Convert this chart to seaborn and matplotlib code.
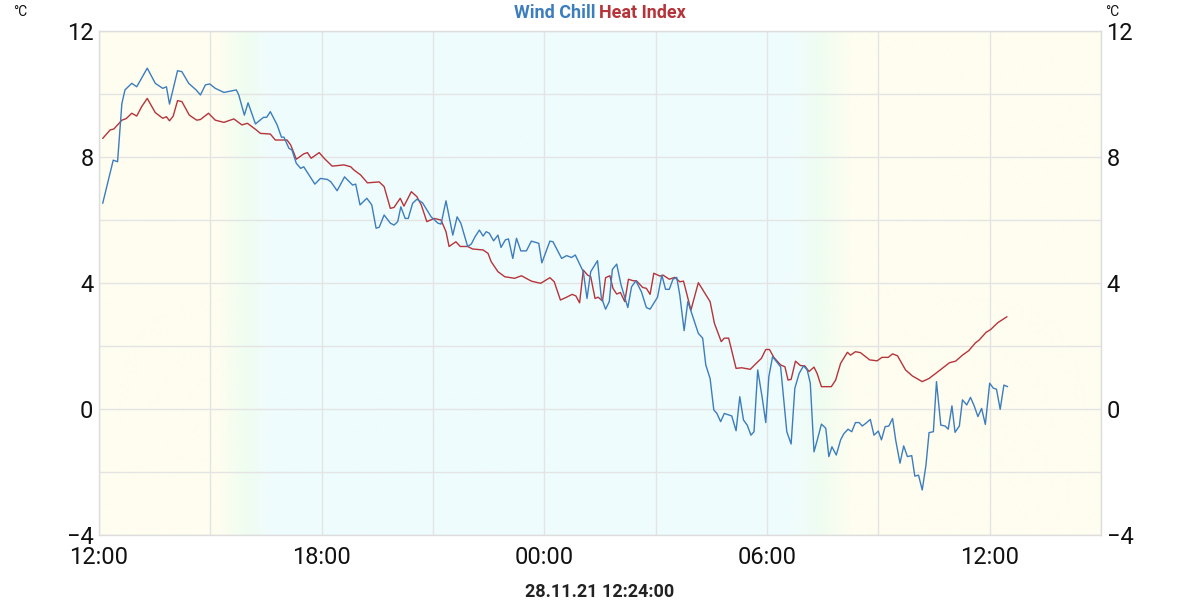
import numpy as np
import pandas as pd
import matplotlib
matplotlib.use("Agg")
import matplotlib.pyplot as plt
import matplotlib.dates as mdates
from matplotlib.colors import LinearSegmentedColormap
import seaborn as sns

# minutes after 27.11.21 12:00
wc_min = [6, 23, 30, 37, 42, 53, 61, 78, 91, 103, 109, 114, 127, 134, 145, 157, 164, 172, 179, 188,
          202, 215, 222, 226, 235, 241, 253, 266, 271, 277, 288, 295, 299, 307, 312, 319, 326, 331, 349, 358,
          369, 375, 385, 397, 410, 415, 422, 433, 441, 448, 453, 461, 471, 477, 483, 488, 495, 500, 507, 514,
          523, 537, 548, 553, 561, 572, 579, 585, 596, 602, 608, 615, 621, 626, 631, 638, 645, 650, 657, 662,
          669, 675, 682, 691, 699, 711, 716, 729, 734, 748, 756, 764, 770, 783, 789, 795, 806, 812, 819, 825,
          830, 837, 844, 855, 861, 868, 877, 885, 891, 903, 910, 916, 922, 928, 934, 939, 946, 952, 961, 969,
          976, 981, 988, 994, 999, 1005, 1011, 1023, 1030, 1036, 1042, 1048, 1054, 1059, 1065, 1072, 1078, 1083, 1089, 1102,
          1112, 1119, 1125, 1132, 1139, 1145, 1150, 1156, 1162, 1168, 1175, 1180, 1185, 1192, 1199, 1204, 1211, 1217, 1223, 1229,
          1234, 1240, 1247, 1253, 1260, 1265, 1271, 1277, 1283, 1288, 1295, 1301, 1307, 1314, 1319, 1325, 1331, 1337, 1342, 1349,
          1354, 1361, 1368, 1373, 1379, 1384, 1391, 1396, 1403, 1409, 1415, 1421, 1427, 1433, 1440, 1446, 1451, 1457, 1463, 1469]
wind_chill = [6.53, 7.90, 7.85, 9.70, 10.13, 10.34, 10.23, 10.82, 10.34, 10.18, 10.23, 9.68, 10.74, 10.71, 10.34, 10.13, 9.97, 10.29, 10.32, 10.18,
              10.05, 10.10, 10.13, 9.97, 9.33, 9.72, 9.05, 9.26, 9.26, 9.44, 9.02, 8.63, 8.63, 8.28, 8.22, 7.80, 7.64, 7.69, 7.14, 7.32,
              7.29, 7.21, 6.93, 7.37, 7.11, 7.14, 6.48, 6.69, 6.48, 5.74, 5.77, 6.16, 5.90, 5.84, 5.95, 6.42, 6.05, 6.05, 6.53, 6.66,
              6.55, 6.10, 5.90, 5.87, 6.61, 5.52, 6.10, 5.90, 5.16, 5.24, 5.47, 5.68, 5.49, 5.63, 5.58, 5.34, 5.52, 5.13, 5.37, 5.40,
              4.78, 5.42, 5.02, 5.02, 5.33, 5.26, 4.64, 5.33, 5.31, 4.78, 4.87, 4.81, 4.89, 4.36, 3.51, 4.36, 4.71, 3.56, 3.17, 3.41,
              4.43, 4.60, 3.94, 3.22, 3.88, 4.07, 3.72, 3.22, 3.17, 3.55, 4.25, 3.80, 3.80, 4.12, 4.18, 3.62, 2.49, 3.41, 2.88, 2.40,
              2.25, 1.40, 0.97, -0.03, -0.14, -0.40, -0.14, -0.22, -0.69, 0.39, -0.35, -0.51, -0.83, -0.72, 1.24, 0.39, -0.43, 1.03, 1.66, 1.34,
              -0.72, -1.11, 0.66, 1.13, 1.37, 1.24, 0.82, -1.36, -0.93, -0.48, -0.61, -1.51, -1.20, -1.46, -0.98, -0.79, -0.64, -0.72, -0.43, -0.43,
              -0.54, -0.45, -0.33, -0.83, -0.70, -0.98, -0.56, -0.54, -0.30, -0.98, -1.72, -1.17, -1.51, -1.48, -2.13, -2.10, -2.57, -1.78, -0.75, -0.72,
              0.87, -0.51, -0.54, -0.64, 0.10, -0.74, -0.54, 0.29, 0.13, 0.37, 0.10, -0.24, 0.02, -0.49, 0.82, 0.66, 0.63, -0.01, 0.76, 0.71]

hi_min = [6, 18, 24, 37, 44, 53, 61, 69, 78, 91, 103, 109, 114, 120, 127, 134, 146, 158, 164, 177,
          188, 202, 218, 231, 240, 253, 261, 277, 285, 304, 310, 319, 331, 337, 343, 356, 364, 377, 396, 407,
          412, 423, 434, 453, 461, 471, 477, 487, 493, 505, 514, 521, 530, 542, 553, 561, 566, 577, 584, 596,
          604, 621, 629, 634, 645, 656, 672, 683, 699, 714, 729, 736, 746, 756, 765, 771, 777, 783, 790, 795,
          802, 807, 814, 819, 826, 831, 837, 843, 850, 856, 864, 869, 879, 885, 891, 897, 907, 912, 922, 931,
          939, 945, 957, 969, 988, 995, 1006, 1011, 1018, 1030, 1039, 1053, 1060, 1071, 1078, 1084, 1091, 1102, 1109, 1114,
          1119, 1126, 1134, 1141, 1148, 1156, 1161, 1168, 1184, 1191, 1199, 1210, 1215, 1223, 1231, 1246, 1258, 1266, 1276, 1283,
          1291, 1304, 1315, 1331, 1342, 1358, 1375, 1385, 1396, 1406, 1417, 1423, 1434, 1442, 1453, 1468]
heat_index = [8.59, 8.86, 8.89, 9.17, 9.22, 9.39, 9.30, 9.60, 9.86, 9.41, 9.23, 9.28, 9.15, 9.30, 9.79, 9.76, 9.33, 9.17, 9.19, 9.39,
              9.17, 9.10, 9.21, 9.02, 9.07, 8.88, 8.75, 8.73, 8.54, 8.54, 8.38, 7.93, 8.10, 8.14, 7.96, 8.14, 7.96, 7.71, 7.75, 7.69,
              7.59, 7.43, 7.18, 7.21, 7.06, 6.37, 6.40, 6.69, 6.44, 6.90, 6.74, 6.48, 5.95, 6.05, 6.00, 5.63, 5.16, 5.31, 5.16, 5.16,
              5.08, 5.05, 4.94, 4.68, 4.36, 4.20, 4.15, 4.23, 4.06, 3.99, 4.17, 4.04, 3.46, 3.55, 3.64, 3.59, 3.37, 4.41, 4.25, 4.20,
              3.51, 3.55, 3.43, 4.17, 4.23, 3.83, 3.65, 3.70, 3.41, 4.12, 4.07, 4.07, 3.86, 3.83, 3.64, 4.31, 4.22, 4.25, 4.12, 4.18,
              4.04, 4.06, 3.14, 4.01, 3.41, 2.72, 2.14, 2.25, 2.25, 1.29, 1.31, 1.26, 1.40, 1.61, 1.89, 1.89, 1.64, 1.40, 1.34, 0.92,
              0.94, 1.52, 1.38, 1.37, 1.19, 1.33, 1.13, 0.71, 0.71, 0.92, 1.45, 1.80, 1.71, 1.82, 1.79, 1.56, 1.53, 1.64, 1.64, 1.75,
              1.69, 1.24, 1.05, 0.87, 0.97, 1.21, 1.47, 1.52, 1.71, 1.85, 2.10, 2.19, 2.43, 2.53, 2.74, 2.93]

# night shading, hours after 12:00
sunset_start, sunset_end = 3.2, 4.6
sunrise_start, sunrise_end = 18.7, 20.3

blue = "#3c7dbd"
red = "#b5343a"

start = pd.Timestamp("2021-11-27 12:00")
end = pd.Timestamp("2021-11-28 15:00")
df_wc = pd.DataFrame({"time": start + pd.to_timedelta(wc_min, unit="min"), "value": wind_chill})
df_hi = pd.DataFrame({"time": start + pd.to_timedelta(hi_min, unit="min"), "value": heat_index})

sns.set_theme(style="white")
plt.rcParams["font.family"] = ["Roboto", "DejaVu Sans"]

fig = plt.figure(figsize=(12, 6), dpi=100)
ax = fig.add_axes([0.0825, 0.1083, 0.835, 0.84])

# day / night background
hours = np.linspace(0, 27, 1000)
light = np.interp(hours, [0, sunset_start, sunset_end, sunrise_start, sunrise_end, 27], [1, 1, 0, 0, 1, 1])
cmap = LinearSegmentedColormap.from_list("daynight", ["#effcfd", "#f0fdf0", "#fefdf0"])
x0, x1 = mdates.date2num(start), mdates.date2num(end)
ax.imshow(light[np.newaxis, :], extent=[x0, x1, -4, 12], aspect="auto", cmap=cmap,
          vmin=0, vmax=1, zorder=0, interpolation="bilinear")

sns.lineplot(data=df_wc, x="time", y="value", ax=ax, color=blue, linewidth=1.0, zorder=3)
sns.lineplot(data=df_hi, x="time", y="value", ax=ax, color=red, linewidth=1.0, zorder=2)

ax.set_xlim(x0, x1)
ax.set_ylim(-4, 12)
ax.xaxis.set_major_locator(mdates.HourLocator(byhour=[0, 6, 12, 18]))
ax.xaxis.set_minor_locator(mdates.HourLocator(byhour=[3, 9, 15, 21]))
ax.xaxis.set_major_formatter(mdates.DateFormatter("%H:%M"))
ax.set_yticks([-4, 0, 4, 8, 12])
ax.set_yticks([-2, 2, 6, 10], minor=True)
ax.grid(True, which="both", color="#e4e4e4", linewidth=1.0, zorder=1)
ax.set_axisbelow(True)
ax.set_xlabel("")
ax.set_ylabel("")

ax.tick_params(axis="x", which="both", length=0, labelsize=17, pad=8, colors="#111111")
ax.tick_params(axis="y", which="both", length=0, labelsize=17, pad=4, colors="#111111",
               labelleft=True, labelright=True)
for s in ax.spines.values():
    s.set_color("#dddddd")
    s.set_linewidth(1.0)

fig.text(20 / 1200, 1 - 12 / 600, "°C", fontsize=10, color="#111111", ha="center", va="center")
fig.text(1112 / 1200, 1 - 12 / 600, "°C", fontsize=10, color="#111111", ha="center", va="center")
fig.text(596 / 1200, 1 - 13 / 600, "Wind Chill", fontsize=13, fontweight="bold", color=blue, ha="right", va="center")
fig.text(599 / 1200, 1 - 13 / 600, "Heat Index", fontsize=13, fontweight="bold", color=red, ha="left", va="center")
fig.text(0.5, 1 - 592 / 600, "28.11.21 12:24:00", fontsize=13, fontweight="bold", color="#222222", ha="center", va="center")

fig.savefig("out.png", dpi=100)
